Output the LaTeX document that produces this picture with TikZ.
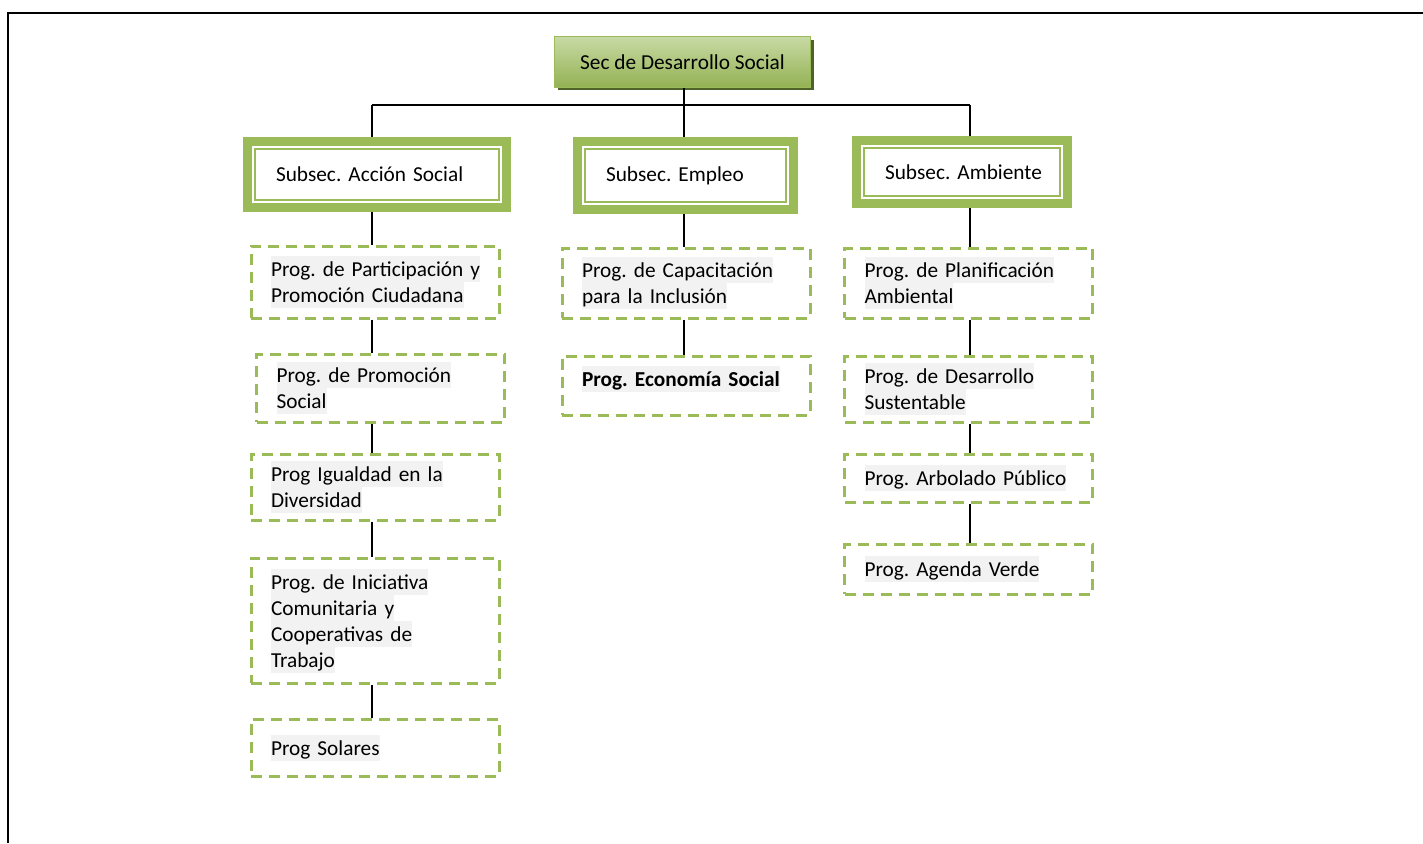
\documentclass[tikz,border=0pt]{standalone}
\usepackage{fontspec}
\setmainfont{Carlito}
\usetikzlibrary{shadows}

\definecolor{ogreen}{HTML}{9BBB59}
\definecolor{dkgreen}{HTML}{4F6228}
\definecolor{hlgray}{HTML}{F2F2F2}
\setlength{\fboxsep}{0pt}
\frenchspacing
\newcommand{\hlt}[1]{\colorbox{hlgray}{\rule[-5.5pt]{0pt}{26pt}#1}}
\newcommand{\boxfont}{\fontsize{21.3}{26}\selectfont}

\begin{document}
\begin{tikzpicture}[x=1pt, y=-1pt,
  sec/.style={draw=ogreen, line width=1pt, top color=ogreen!55!white, bottom color=ogreen!95!black,
    drop shadow={shadow xshift=3pt, shadow yshift=-3pt, fill=dkgreen, opacity=1},
    minimum width=256pt, minimum height=50pt, font=\boxfont},
  subsec/.style={draw=ogreen, line width=9pt, fill=white, align=left, inner xsep=28.5pt, inner ysep=0pt, font=\boxfont},
  prog/.style={draw=ogreen, line width=3pt, dash pattern=on 11pt off 7pt, align=left,
    text width=208pt, inner xsep=20pt, inner ysep=0pt, font=\boxfont},
  link/.style={line width=1.6pt}]

\useasboundingbox (0,0) rectangle (1423,843);
\draw[line width=2.5pt] (8,843) to (8,13) to (1423,13);

\node [sec] (sec) at (682.5,62) {Sec de Desarrollo Social};

\coordinate (cA) at (372,105);
\coordinate (cE) at (684,105);
\coordinate (cM) at (970,105);

% subsecretarias
\node [subsec, text width=202pt, minimum height=66pt] (sa) at (377,174.5) {\mbox{Subsec. Acción Social}};
\node [subsec, text width=159pt, minimum height=68pt] (se) at (685.5,175.5) {\mbox{Subsec. Empleo}};
\node [subsec, text width=154pt, minimum height=63pt] (sm) at (962,172) {\mbox{Subsec. Ambiente}};
\foreach \n in {sa,se,sm}
  \draw[ogreen, line width=2pt] ([shift={(12,12)}]\n.north west) rectangle ([shift={(-12,-12)}]\n.south east);

% programas
\node [prog, minimum height=72pt] (a1) at (375,282) {\hlt{Prog. de Participación y}\\\hlt{Promoción Ciudadana}};
\node [prog, minimum height=68pt] (a2) at (380.5,388) {\hlt{Prog. de Promoción}\\\hlt{Social}};
\node [prog, minimum height=66pt] (a3) at (375,487) {\hlt{Prog Igualdad en la}\\\hlt{Diversidad}};
\node [prog, minimum height=125pt] (a4) at (375,620.5) {\hlt{Prog. de Iniciativa}\\\hlt{Comunitaria y}\\\hlt{Cooperativas de}\\\hlt{Trabajo}};
\node [prog, minimum height=57pt] (a5) at (375,747.5) {\hlt{Prog Solares}};

\node [prog, minimum height=70pt] (e1) at (686,283) {\hlt{Prog. de Capacitación}\\\hlt{para la Inclusión}};
\node [prog, minimum height=59pt, text depth=18.5pt] (e2) at (686,385.5) {\hlt{\bfseries Prog. Economía Social}};

\node [prog, minimum height=70pt] (m1) at (968.5,283) {\hlt{Prog. de Planificación}\\\hlt{Ambiental}};
\node [prog, minimum height=66pt] (m2) at (968.5,389) {\hlt{Prog. de Desarrollo}\\\hlt{Sustentable}};
\node [prog, minimum height=48pt] (m3) at (968.5,478) {\hlt{Prog. Arbolado Público}};
\node [prog, minimum height=50pt] (m4) at (968.5,569) {\hlt{Prog. Agenda Verde}};

% lineas
\draw[link] (sec.south -| cE) to (se.north -| cE);
\draw[link] (cA) to (cM);
\draw[link] (cA) to (cA |- sa.north);
\draw[link] (cM) to (cM |- sm.north);
\foreach \u/\v/\c in {sa/a1/cA, a1/a2/cA, a2/a3/cA, a3/a4/cA, a4/a5/cA,
                      se/e1/cE, e1/e2/cE,
                      sm/m1/cM, m1/m2/cM, m2/m3/cM, m3/m4/cM}
  \draw[link] (\u.south -| \c) to (\v.north -| \c);

\end{tikzpicture}
\end{document}
